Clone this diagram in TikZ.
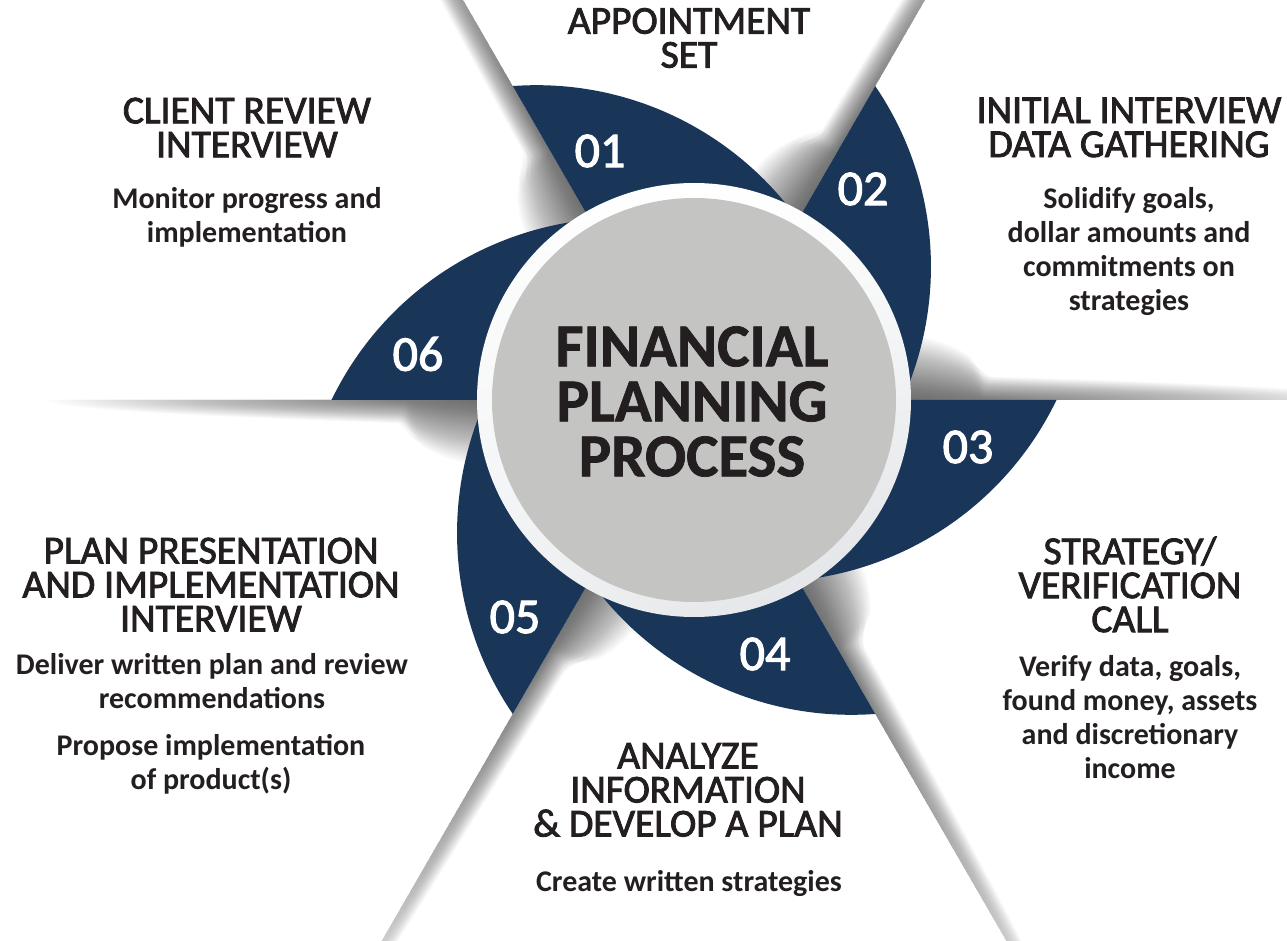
\documentclass[tikz,border=0pt]{standalone}
\usepackage{fontspec}
\setmainfont{Carlito}
\newfontfamily\semibold[FakeBold=2.2]{Carlito}
\newfontfamily\heavy[FakeBold=1.2]{Carlito Bold}
\usetikzlibrary{calc,shadings}
\definecolor{navy}{RGB}{25,54,89}
\definecolor{ink}{RGB}{35,31,32}
\definecolor{discgrey}{RGB}{196,196,194}
\definecolor{ringshade}{RGB}{222,225,228}

\tikzset{
  blade/.style={fill=navy, draw=none},
  stepnum/.style={text=white, inner sep=0pt, font=\semibold\fontsize{50}{50}\selectfont},
  heading/.style={text=ink, inner sep=0pt, align=center, font=\semibold\fontsize{39.5}{34}\selectfont},
  detail/.style={text=ink, inner sep=0pt, align=center, font=\bfseries\fontsize{30}{34}\selectfont},
  hubtext/.style={text=ink, inner sep=0pt, align=center, font=\heavy\fontsize{61}{55}\selectfont},
}

\begin{document}
\begin{tikzpicture}[x=1pt,y=1pt]
\useasboundingbox (-694,-541) rectangle (593,400);
\fill[white] (-694,-541) rectangle (593,400);
\clip (-694,-541) rectangle (593,400);

% soft fold shadows on the counter-clockwise side of each spoke:
% a small rounded bump next to the ring that runs out into a band
\foreach \ang/\len in {120/640,60/640,0/480,-60/580,-120/580,180/440}{
  \begin{scope}[rotate=\ang]
    \foreach \i in {1,...,45}{
      \pgfmathsetmacro\s{\i/45}
      \pgfmathsetmacro\L{\s*\len}
      \fill[black, fill opacity=0.016]
        (208,0) -- ({208+\L},0)
        -- plot[domain=\L:0, samples=36, variable=\t]
           ({208+\t},{\s*(26+40*sqrt(max(0,1-(\t/80)^2)))*sqrt(max(0,1-\t/\L))})
        -- cycle;
    }
  \end{scope}
}

% the six navy blades
\foreach \ang in {120,60,0,-60,-120,180}{
  \fill[blade, rotate=\ang] (0,0) -- (362.5,0) arc[start angle=-25.8, end angle=-115, radius=322] -- cycle;
}

% white ring and grey hub
\shade[upper left=white, upper right=white, lower left=white!55!ringshade, lower right=ringshade]
  (0,0) circle[radius=217];
\fill[discgrey] (0,0) circle[radius=202];

\begin{scope}[shift={(-694,400)}, y=-1pt]
  \node (hub) [hubtext] at (692,401.5) {FINANCIAL\\PLANNING\\PROCESS};

  \node (n1) [stepnum] at (600,151) {01};
  \node (n2) [stepnum] at (863,189) {02};
  \node (n3) [stepnum] at (968,447) {03};
  \node (n4) [stepnum] at (765,654) {04};
  \node (n5) [stepnum] at (515,617) {05};
  \node (n6) [stepnum] at (418,354) {06};

  \node (h1) [heading] at (689,38) {APPOINTMENT\\SET};
  \node (h2) [heading] at (1129,127.5) {INITIAL INTERVIEW\\DATA GATHERING};
  \node (d2) [detail] at (1129,251.5) {Solidify goals,\\dollar amounts and\\commitments on\\strategies};
  \node (h3) [heading] at (1130,584.5) {STRATEGY/\\VERIFICATION\\CALL};
  \node (d3) [detail] at (1130,717.5) {Verify data, goals,\\found money, assets\\and discretionary\\income};
  \node (h4) [heading] at (688,790) {ANALYZE\\INFORMATION\\\& DEVELOP A PLAN};
  \node (d4) [detail] at (689,883.5) {Create written strategies};
  \node (h5) [heading] at (211,584.5) {PLAN PRESENTATION\\AND IMPLEMENTATION\\INTERVIEW};
  \node (d5a) [detail] at (212,681.5) {Deliver written plan and review\\recommendations};
  \node (d5b) [detail] at (211,764) {Propose implementation\\of product(s)};
  \node (h6) [heading] at (247,127.5) {CLIENT REVIEW\\INTERVIEW};
  \node (d6) [detail] at (247,217) {Monitor progress and\\implementation};
\end{scope}
\end{tikzpicture}
\end{document}
